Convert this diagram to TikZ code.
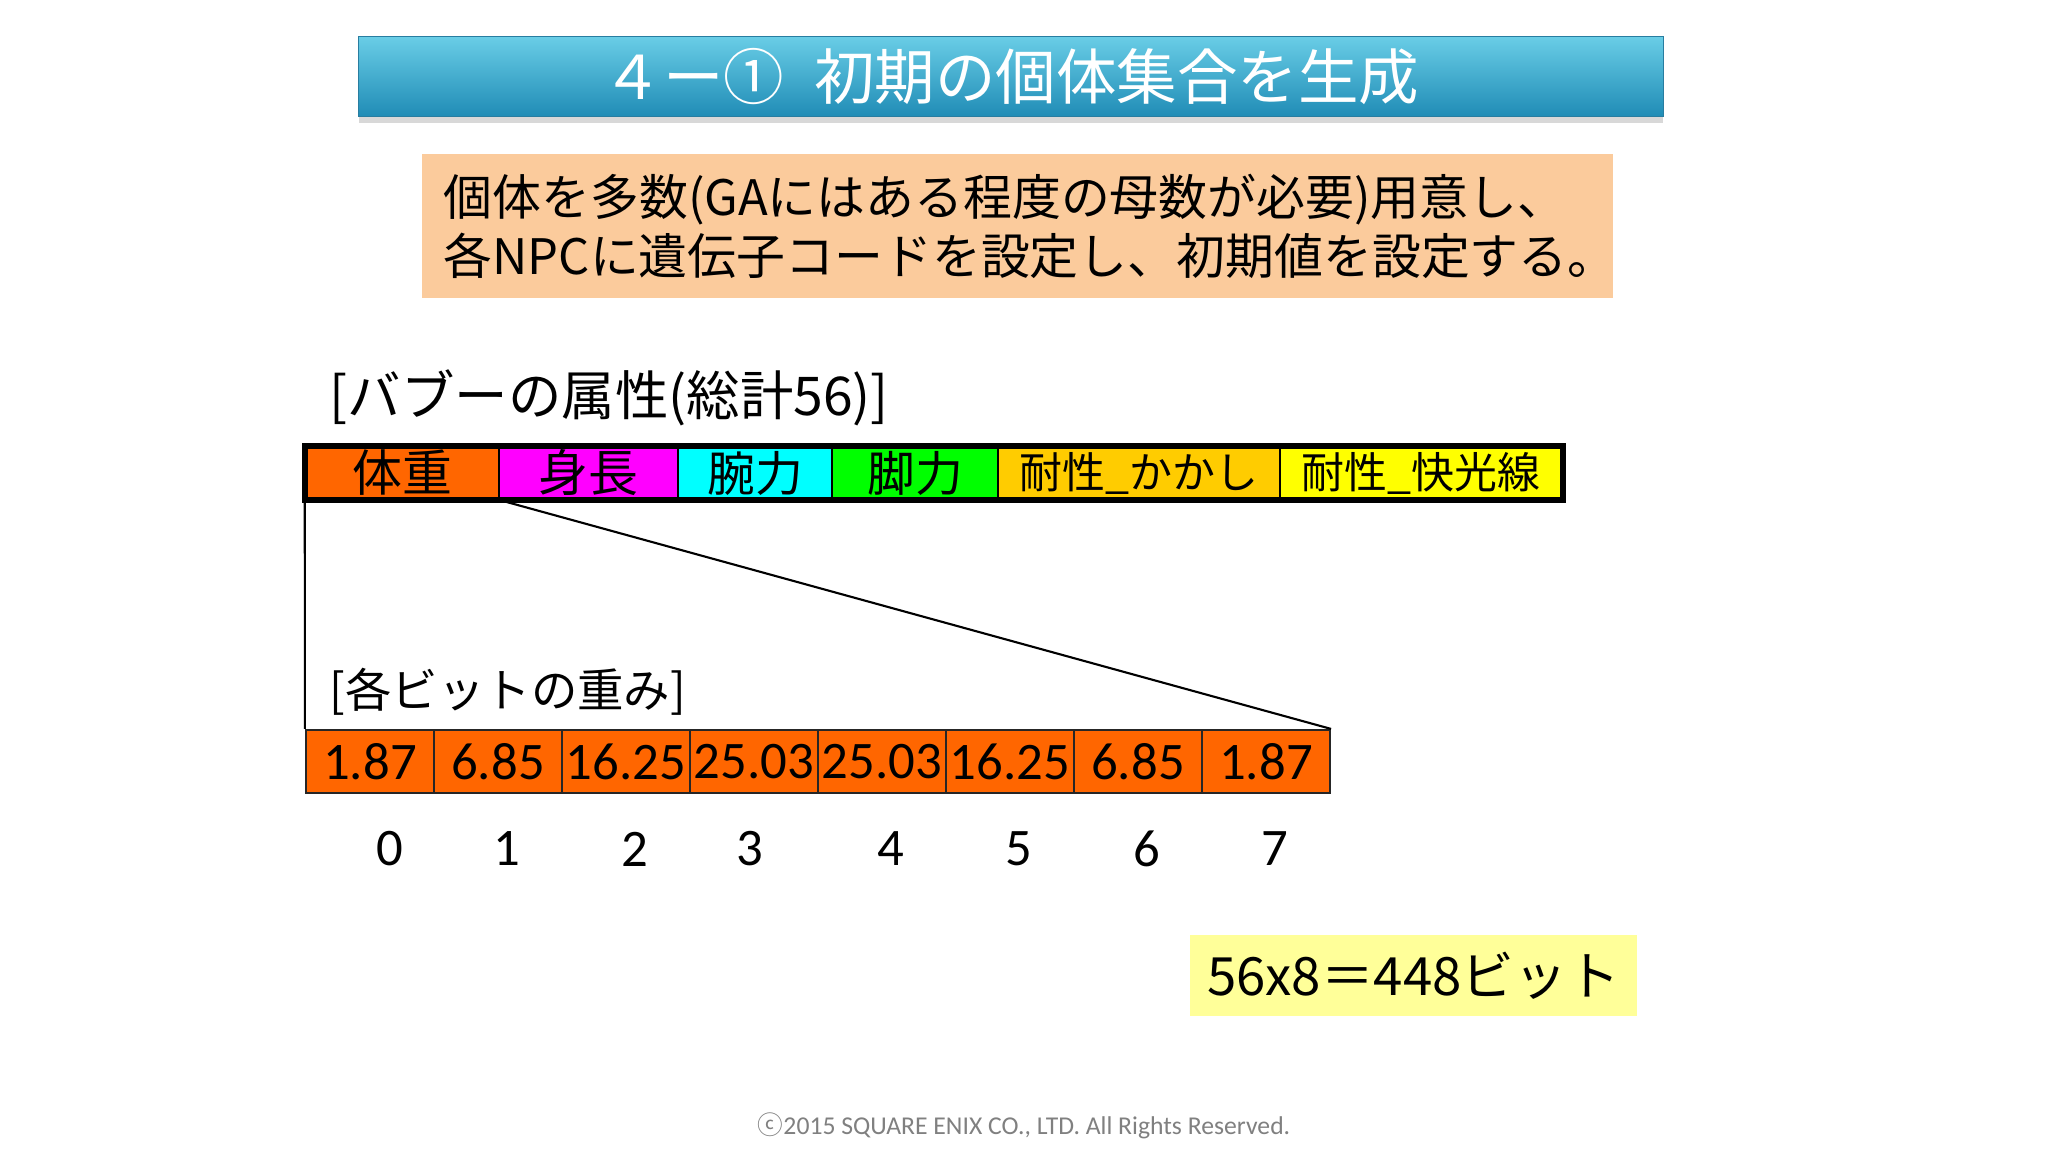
\documentclass[tikz,border=0pt]{standalone}
\usepackage{fontspec}
\setmainfont{Carlito}
\newfontfamily\jp{Noto Sans CJK JP}
\usetikzlibrary{shadows}

\definecolor{titletop}{RGB}{105,205,230}
\definecolor{titlebot}{RGB}{32,140,182}
\definecolor{titleedge}{RGB}{40,125,160}
\definecolor{peach}{RGB}{251,203,156}
\definecolor{paleyellow}{RGB}{255,255,153}
\definecolor{wtorange}{RGB}{255,102,0}
\definecolor{shinmag}{RGB}{255,0,255}
\definecolor{wancyan}{RGB}{0,255,255}
\definecolor{kyakgreen}{RGB}{0,255,0}
\definecolor{kakashi}{RGB}{255,204,0}
\definecolor{kaiyellow}{RGB}{255,255,0}
\newcommand{\fsz}[1]{\fontsize{#1}{1.2\dimexpr#1pt\relax}\selectfont}

\begin{document}
\begin{tikzpicture}[x=0.01cm, y=-0.01cm,
    attr/.style={draw=black, line width=0.7pt, minimum height=0.52cm, inner sep=0pt},
    wcell/.style={draw=black!85, line width=0.6pt, fill=wtorange, minimum width=1.28cm,
                  minimum height=0.63cm, inner sep=0pt, font=\fsz{15}},
    label/.style={anchor=west, inner sep=0pt}]
    \useasboundingbox (0,0) rectangle (2048,1152);
    \fill[white] (0,0) rectangle (2048,1152);

    % title
    \node (title) [minimum width=13.04cm, minimum height=0.75cm, top color=titletop,
        bottom color=titlebot, draw=titleedge, line width=0.4pt,
        drop shadow={shadow xshift=0pt, shadow yshift=-2pt, opacity=0.3},
        text=white, font=\jp\fsz{17.2}] at (1011,76.5) {４ー①\hspace{0.5em}初期の個体集合を生成};

    \node (intro) [fill=peach, minimum height=1.44cm, text width=11.47cm, inner xsep=0.22cm,
        align=left, font=\jp\fontsize{13.9}{16.8}\selectfont] at (1017.5,226)
        {個体を多数(GAにはある程度の母数が必要)用意し、\\各NPCに遺伝子コードを設定し、初期値を設定する。};

    % attributes
    \node (attrlabel) [label, font=\jp\fsz{15.2}] at (329,398) {[バブーの属性(総計56)]};
    \foreach \a/\b/\c/\s/\t/\n in {306/499/wtorange/14.2/体重/taiju, 499/678/shinmag/14.2/身長/shincho,
        678/832/wancyan/13.6/腕力/wanryoku, 832/998/kyakgreen/13.6/脚力/kyakuryoku,
        998/1280/kakashi/12.2/耐性\_かかし/kakashi, 1280/1562/kaiyellow/12.2/耐性\_快光線/kaikou}
        \node (\n) [attr, fill=\c, minimum width={0.01cm*(\b-\a)}, font=\jp\fsz{\s}]
            at ({(\a+\b)/2},473) {\t};
    \draw[line width=1.8pt] (taiju.north west) rectangle (kaikou.south east);

    % weights
    \node (wlabel) [label, font=\jp\fsz{13.2}] at (329,692) {[各ビットの重み]};
    \foreach \v [count=\i from 0] in {1.87,6.85,16.25,25.03,25.03,16.25,6.85,1.87}
        \node (w\i) [wcell] at ({370+128*\i},761.5) {\v};
    \foreach \x [count=\i from 0] in {390,507,635,750,891,1019,1147,1275}
        \node (bit\i) [font=\fsz{15}] at (\x,849) {\i};

    \draw[line width=0.6pt] (taiju.south west) -- (w0.north west);
    \draw[line width=0.6pt] (taiju.south east) -- (w7.north east);

    \node (total) [fill=paleyellow, minimum width=4.47cm, minimum height=0.81cm,
        font=\jp\fsz{15}] at (1413.5,975.5) {56x8＝448ビット};

    \node (copy) [text=black!50, font=\fsz{7.3}] at (1024,1126)
        {{\jp ⓒ}2015 SQUARE ENIX CO., LTD. All Rights Reserved.};
\end{tikzpicture}
\end{document}
